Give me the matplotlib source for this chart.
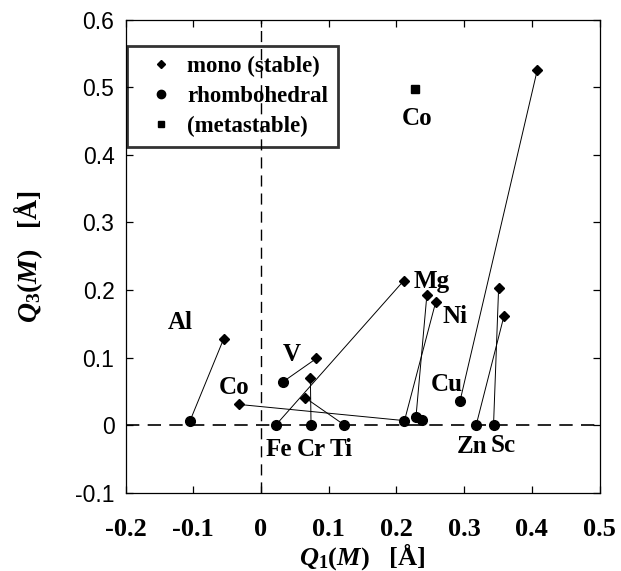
#! /usr/bin/env python3

import matplotlib
matplotlib.use('Agg')
import matplotlib.pyplot as plt
from matplotlib.lines import Line2D

# element labels for the mono (stable) points, same order as below
elements = ['Al', 'Co', 'V', 'Cr', 'Ti', 'Fe', 'Mg', 'Ni', 'Cu', 'Zn', 'Sc']
mono_q1 = [-0.055, -0.033, 0.082, 0.073, 0.065, 0.211, 0.245, 0.258, 0.408, 0.359, 0.351]
mono_q3 = [0.128, 0.031, 0.099, 0.070, 0.041, 0.214, 0.192, 0.182, 0.525, 0.162, 0.203]

# rhombohedral points
rhombo_q1 = [-0.105, 0.212, 0.032, 0.074, 0.1225, 0.0225, 0.229, 0.238, 0.294, 0.318, 0.3435]
rhombo_q3 = [0.006, 0.007, 0.064, 0.001, 0.001, 0.001, 0.013, 0.008, 0.036, 0.001, 0.001]

# which rhombohedral point each mono point is joined to
links = [0, 1, 2, 3, 4, 5, 6, 1, 8, 9, 10]

# metastable point
meta_q1 = [0.227]
meta_q3 = [0.497]

# text labels in the plot
text_labels = ['Al', 'V', 'Co', 'Fe', 'Cr', 'Ti', 'Mg', 'Ni', 'Cu', 'Zn', 'Sc', 'Co']
text_q1 = [-0.119, 0.045, -0.039, 0.026, 0.074, 0.119, 0.252, 0.287, 0.275, 0.312, 0.358, 0.230]
text_q3 = [0.156, 0.109, 0.059, -0.032, -0.032, -0.032, 0.216, 0.165, 0.064, -0.027, -0.026, 0.458]

xticks = [-0.2, -0.1, 0.0, 0.1, 0.2, 0.3, 0.4, 0.5]
xtick_labels = ['-0.2', '-0.1', '0', '0.1', '0.2', '0.3', '0.4', '0.5']
yticks = [-0.1, 0.0, 0.1, 0.2, 0.3, 0.4, 0.5, 0.6]
ytick_labels = ['-0.1', '0', '0.1', '0.2', '0.3', '0.4', '0.5', '0.6']


def main():
    serif = 'Liberation Serif'
    matplotlib.rcParams.update({
        'font.family': serif,
        'font.weight': 'bold',
        'mathtext.fontset': 'custom',
        'mathtext.rm': 'Liberation Serif:bold',
        'mathtext.it': 'Liberation Serif:italic:bold',
        'mathtext.bf': 'Liberation Serif:bold',
        'axes.linewidth': 0.9,
    })

    fig = plt.figure(figsize=(6.21, 5.71), dpi=100)
    ax = fig.add_axes([0.2021, 0.1366, 0.7633, 0.8292])

    ax.axvline(0, color='k', lw=1.0, dashes=(8, 5), zorder=1)
    ax.axhline(0, color='k', lw=1.2, dashes=(8, 5), zorder=1)

    for i, j in enumerate(links):
        ax.plot([mono_q1[i], rhombo_q1[j]], [mono_q3[i], rhombo_q3[j]],
                color='k', lw=0.7, zorder=2)

    ax.plot(mono_q1, mono_q3, 'D', color='k', ms=5, zorder=3)
    ax.plot(rhombo_q1, rhombo_q3, 'o', color='k', ms=7, zorder=3)
    ax.plot(meta_q1, meta_q3, 's', color='k', ms=5.5, zorder=3)

    for t, x, y in zip(text_labels, text_q1, text_q3):
        ax.text(x, y, t, fontsize=18, fontweight='bold', ha='center',
                va='center_baseline', family=serif)

    ax.set_xlim(-0.2, 0.5)
    ax.set_ylim(-0.1, 0.6)
    ax.set_xticks(xticks)
    ax.set_xticklabels(xtick_labels, fontsize=19, fontweight='bold', family=serif)
    ax.set_yticks(yticks)
    ax.set_yticklabels(ytick_labels, fontsize=16.5, fontweight='normal',
                       family='Liberation Sans')
    ax.tick_params(direction='in', top=True, right=True, length=5, width=0.9)
    ax.tick_params(axis='x', pad=18)
    ax.tick_params(axis='y', pad=8)

    ax.set_xlabel(r'$Q_1(M)$   [Å]', fontsize=19, fontweight='bold')
    ax.set_ylabel(r'$Q_3(M)$   [Å]', fontsize=20, fontweight='bold')
    ax.xaxis.set_label_coords(0.5, -0.102)
    ax.yaxis.set_label_coords(-0.17, 0.5)

    handles = [
        Line2D([], [], ls='', marker='D', color='k', ms=4),
        Line2D([], [], ls='', marker='o', color='k', ms=6),
        Line2D([], [], ls='', marker='s', color='k', ms=5),
    ]
    leg = ax.legend(handles, ['mono (stable)', 'rhombohedral', '(metastable)'],
                    loc='upper left', bbox_to_anchor=(0.003, 0.944),
                    borderaxespad=0, borderpad=0.42, handlelength=2.1,
                    handletextpad=0.1, labelspacing=0.4, fancybox=False,
                    prop={'family': serif, 'weight': 'bold', 'size': 16.5})
    leg.get_frame().set_edgecolor('k')
    leg.get_frame().set_facecolor('none')
    leg.get_frame().set_linewidth(2.0)

    fig.savefig('out.png', dpi=100)


if __name__ == '__main__':
    main()
